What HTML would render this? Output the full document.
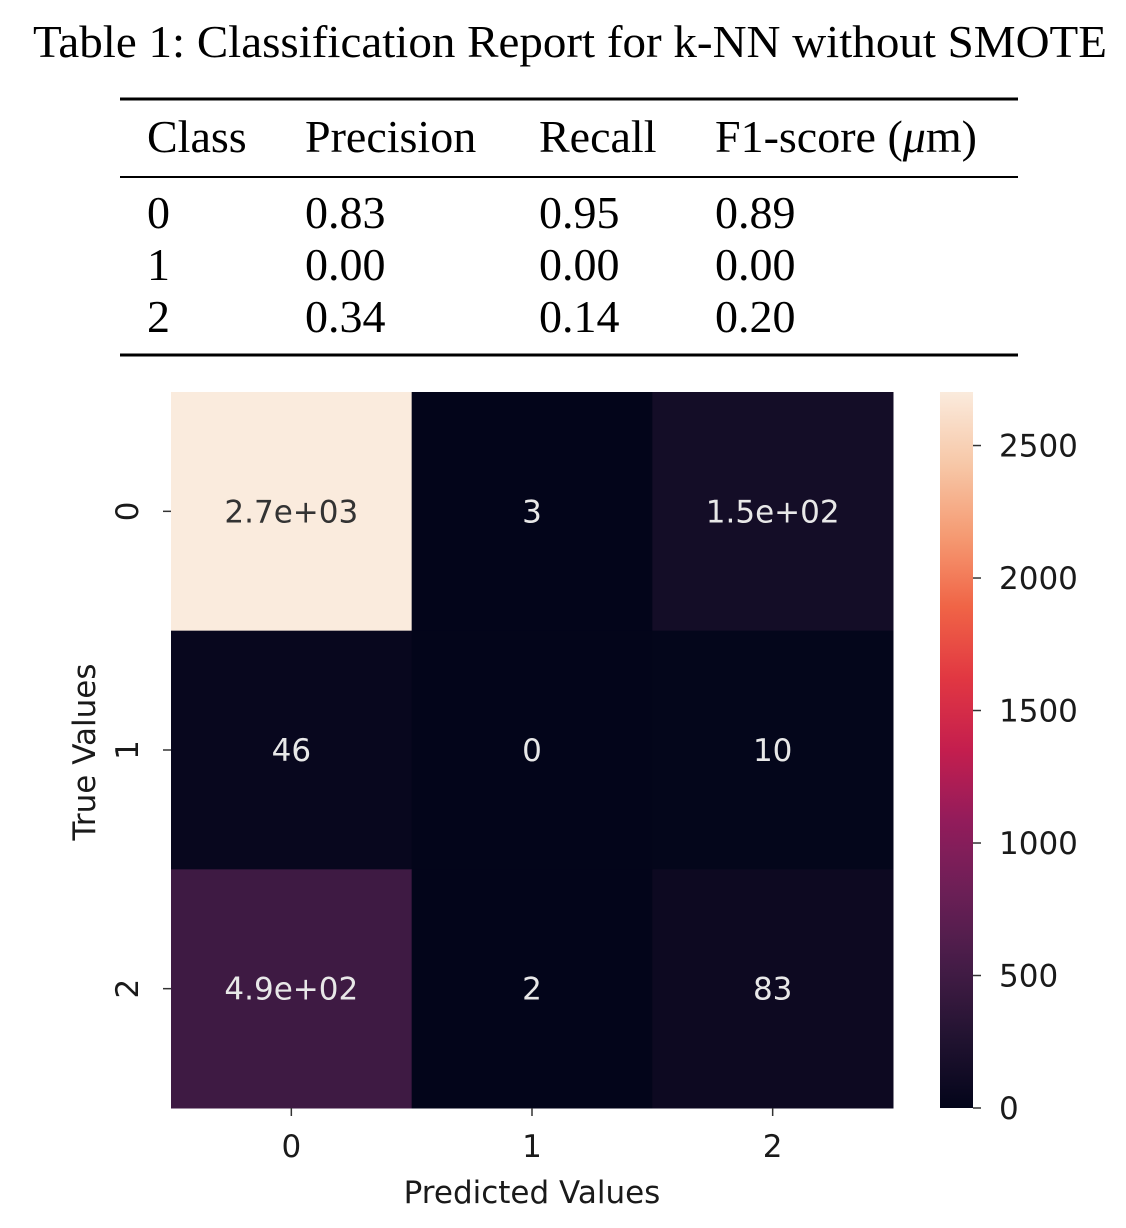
<!DOCTYPE html>
<html><head><meta charset="utf-8">
<style>
body{margin:0;background:#fff;width:1126px;height:1228px;overflow:hidden;}
svg{display:block}
.serif{font-family:"Liberation Serif",serif;fill:#000}
.sans{font-family:"DejaVu Sans","Liberation Sans",sans-serif;fill:#1a1a1a}
</style></head>
<body>
<svg id="chart" width="1126" height="1228" viewBox="0 0 1126 1228">
  <text class="serif" x="33" y="57" font-size="46" textLength="1074" lengthAdjust="spacingAndGlyphs">Table 1: Classification Report for k-NN without SMOTE</text>
  <line x1="120" y1="99" x2="1018" y2="99" stroke="#000" stroke-width="3"/>
  <line x1="120" y1="177" x2="1018" y2="177" stroke="#000" stroke-width="2"/>
  <line x1="120" y1="355" x2="1018" y2="355" stroke="#000" stroke-width="3"/>
  <g id="table"></g>

  <g id="heat"></g>
  <g id="cbar"></g>
  <text class="sans" x="532" y="1203" font-size="31" text-anchor="middle">Predicted Values</text>
  <text class="sans" x="0" y="0" font-size="31" text-anchor="middle" transform="translate(95,752) rotate(-90)">True Values</text>
</svg>
<script>
const headers = ["Class","Precision","Recall","F1-score (μm)"];
const rowsData = [["0","0.83","0.95","0.89"],["1","0.00","0.00","0.00"],["2","0.34","0.14","0.20"]];
const categories = ["0","1","2"];
const matrix = [[2700,3,150],[46,0,10],[490,2,83]];
const cellLabels = [["2.7e+03","3","1.5e+02"],["46","0","10"],["4.9e+02","2","83"]];
const cbarTicks = [0,500,1000,1500,2000,2500];
const vmax = 2702;

const NS="http://www.w3.org/2000/svg";
function mk(tag, attrs, parent){const e=document.createElementNS(NS,tag);for(const k in attrs)e.setAttribute(k,attrs[k]);parent.appendChild(e);return e;}

const colX=[147,305,539,715];
const table=document.getElementById('table');
headers.forEach((h,i)=>{
  const t=mk('text',{class:'serif',x:colX[i],y:152,'font-size':46},table);
  
  
  if(i===3){t.innerHTML='F1-score (<tspan font-style="italic">μ</tspan>m)';} else t.textContent=h;
});
rowsData.forEach((r,ri)=>{
  r.forEach((c,ci)=>{
    const t=mk('text',{class:'serif',x:colX[ci],y:228+ri*52,'font-size':46},table);
    
    
    t.textContent=c;
  });
});

const stops=[[0,[3,5,26]],[0.1,[34,19,49]],[0.2,[69,28,71]],[0.3,[107,31,86]],[0.4,[146,28,91]],[0.5,[196,30,78]],[0.6,[225,55,66]],[0.7,[240,100,70]],[0.8,[245,155,115]],[0.9,[247,200,168]],[1,[250,235,221]]];
function rocket(t){t=Math.max(0,Math.min(1,t));for(let i=1;i<stops.length;i++){if(t<=stops[i][0]){const [a,ca]=stops[i-1],[b,cb]=stops[i];const f=(t-a)/(b-a);return 'rgb('+ca.map((v,k)=>Math.round(v+(cb[k]-v)*f)).join(',')+')';}}return 'rgb(250,235,221)';}

const X0=171,X1=893,Y0=392,Y1=1108;
const cw=(X1-X0)/categories.length, ch=(Y1-Y0)/categories.length;
const xPos=i=>X0+i*cw, yPos=i=>Y0+i*ch;
const heat=document.getElementById('heat');
matrix.forEach((row,r)=>row.forEach((v,c)=>{
  const rc=mk('rect',{x:xPos(c),y:yPos(r),width:cw+0.5,height:ch+0.5,fill:rocket(v/vmax)},heat);
  
  
  const t=mk('text',{class:'sans',x:xPos(c)+cw/2,y:yPos(r)+ch/2+11,'font-size':31,'text-anchor':'middle',style:'fill:'+(v/vmax>0.6?'#333333':'#e8e8e8')},heat);
  
  
  t.textContent=cellLabels[r][c];
}));
categories.forEach((c,i)=>{
  const xc=xPos(i)+cw/2;
  const tk=mk('line',{x1:xc,y1:Y1,x2:xc,y2:Y1+8,stroke:'#333','stroke-width':1.5},heat);
  
  
  const tl=mk('text',{class:'sans',x:xc,y:1157,'font-size':31,'text-anchor':'middle'},heat);
  
  
  tl.textContent=c;
  const yc=yPos(i)+ch/2;
  const ytk=mk('line',{x1:X0-8,y1:yc,x2:X0,y2:yc,stroke:'#333','stroke-width':1.5},heat);
  
  
  const yl=mk('text',{class:'sans',x:0,y:0,'font-size':31,'text-anchor':'middle',transform:'translate(138,'+yc+') rotate(-90)'},heat);
  
  
  yl.textContent=c;
});

const cb=document.getElementById('cbar');
const CX=940,CW=33;
const defs=mk('defs',{},cb);
const lg=mk('linearGradient',{id:'rg',x1:0,y1:1,x2:0,y2:0},defs);
for(let i=0;i<=20;i++){mk('stop',{offset:i/20,'stop-color':rocket(i/20)},lg);}
const bar=mk('rect',{x:CX,y:Y0,width:CW,height:Y1-Y0,fill:'url(#rg)'},cb);


const cy=v=>Y1-(v/vmax)*(Y1-Y0);
cbarTicks.forEach(v=>{
  const y=cy(v);
  const l=mk('line',{x1:CX+CW,y1:y,x2:CX+CW+8,y2:y,stroke:'#333','stroke-width':1.5},cb);
  
  
  const t=mk('text',{class:'sans',x:CX+CW+26,y:y+11,'font-size':31},cb);
  
  
  t.textContent=v;
});
</script>
</body></html>
